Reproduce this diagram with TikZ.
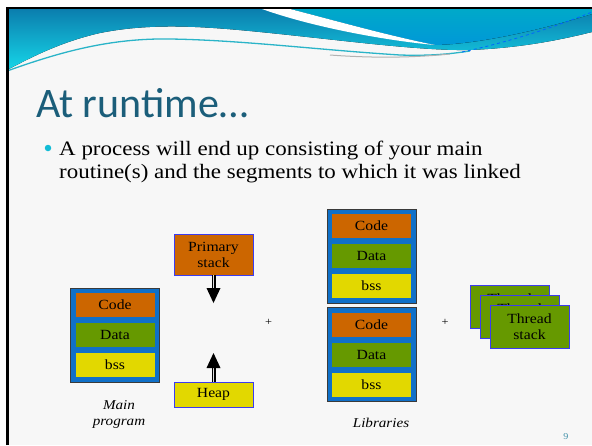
\documentclass[tikz,border=0pt]{standalone}
\usepackage{fontspec}
\setmainfont{Liberation Serif}[FakeStretch=1.12]
\newfontfamily\titlefont{Carlito}

\definecolor{slidebg}{HTML}{F7F7F7}
\definecolor{bandtop}{HTML}{0B7EAE}
\definecolor{bandlow}{HTML}{16D6E8}
\definecolor{bandcyan}{HTML}{00A9C9}
\definecolor{bandblue}{HTML}{0098D8}
\definecolor{swoosh}{HTML}{2AB4C8}
\definecolor{titleteal}{HTML}{1B5E7A}
\definecolor{bulletcyan}{HTML}{12BCD6}
\definecolor{codeorange}{HTML}{CC6600}
\definecolor{datagreen}{HTML}{669900}
\definecolor{bssyellow}{HTML}{E2D800}
\definecolor{segblue}{HTML}{1070C8}
\definecolor{framegray}{HTML}{3A3A3A}
\definecolor{edgeblue}{HTML}{3C3CF0}
\definecolor{pageteal}{HTML}{3F8FA8}

\tikzset{
  seg/.style={minimum width=79pt, minimum height=24pt, inner sep=0pt,
    font=\fontsize{14}{15}\selectfont},
  codeseg/.style={seg, fill=codeorange},
  dataseg/.style={seg, fill=datagreen},
  bssseg/.style={seg, fill=bssyellow},
  segframe/.style={draw=framegray, line width=0.8pt, fill=segblue,
    minimum width=89pt, minimum height=94pt, inner sep=0pt},
  memblock/.style={draw=edgeblue, line width=0.8pt, inner sep=0pt,
    minimum width=79pt, align=center, font=\fontsize{14}{16}\selectfont},
  caption/.style={inner sep=0pt, align=center,
    font=\fontsize{13.5}{16}\selectfont\itshape},
  growarrow/.style={double=black!12, double distance=1.6pt, line width=1.2pt},
  plussign/.style={inner sep=0pt, font=\fontsize{11}{11}\selectfont}
}

\begin{document}
\begin{tikzpicture}[x=1pt, y=-1pt]
    \useasboundingbox (0,0) rectangle (592,445);
    % slide
    \fill [white] (0,0) rectangle (592,445);
    \fill [slidebg] (7,9) rectangle (592,445);

    % header band
    \fill [top color=bandtop, bottom color=bandlow]
        (7,9) -- (592,9) -- (592,32)
        .. controls (560,40) and (520,48) .. (470,50)
        .. controls (420,51) and (340,40) .. (260,32)
        .. controls (200,26) and (150,23) .. (100,33)
        .. controls (60,42) and (30,58) .. (7,70) -- cycle;
    \fill [top color=bandcyan, bottom color=bandblue]
        (290,9) -- (592,9) -- (592,14)
        .. controls (540,30) and (480,44) .. (435,45)
        .. controls (390,36) and (340,22) .. (290,9) -- cycle;
    \fill [white]
        (262,9) -- (290,9)
        .. controls (340,22) and (390,36) .. (435,45)
        .. controls (390,41) and (315,28) .. (262,9) -- cycle;
    % swoosh lines
    \draw [swoosh, line width=1.3pt]
        (7,71) .. controls (60,52) and (110,38) .. (170,39)
        .. controls (240,40) and (320,50) .. (400,55)
        .. controls (430,56) and (450,54) .. (470,51);
    \draw [black!30, line width=1pt] (330,55) .. controls (370,58) and (410,58) .. (450,54);
    \draw [blue!60!cyan, line width=0.8pt, dashed]
        (462,52) .. controls (510,42) and (560,25) .. (592,12);

    % frame
    \draw [black, line width=2.5pt] (7.5,445) -- (7.5,8) -- (592,8);

    % title
    \node [anchor=base west, inner sep=0pt, text=titleteal,
        font=\titlefont\fontsize{42}{42}\selectfont] (title) at (36,117) {At runtime\ldots};

    % bullet
    \node [circle, fill=bulletcyan, inner sep=0pt, minimum size=6.5pt] (bullet) at (48,148) {};
    \node [anchor=base west, inner sep=0pt, font=\fontsize{20.5}{23}\selectfont]
        (lineone) at (59,155) {A process will end up consisting of your main};
    \node [anchor=base west, inner sep=0pt, font=\fontsize{20.5}{23}\selectfont]
        (linetwo) at (59,178) {routine(s) and the segments to which it was linked};

    % Main program
    \node [segframe] (mainprog) at (115,335) {};
    \node [codeseg] (maincode) at (115,305) {Code};
    \node [dataseg] (maindata) at (115,335) {Data};
    \node [bssseg] (mainbss) at (115,365) {bss};
    % label
    \node [caption, anchor=north] (mainlabel) at (119,400) {Main\\program};

    % stack and heap
    \node [memblock, fill=codeorange, minimum height=41pt] (pstack) at (213.5,254.5) {Primary\\stack};
    \node [memblock, fill=bssyellow, minimum height=25pt] (heap) at (213.5,394.5) {Heap};
    \coordinate (downhead) at (213.5,288);
    \coordinate (uphead) at (213.5,368);
    \draw [growarrow] (pstack.south) -- (downhead);
    \fill [black] (downhead) ++(-7,0) -- ++(14,0) -- ++(-7,15) -- cycle;
    \draw [growarrow] (heap.north) -- (uphead);
    \fill [black] (uphead) ++(-7,0) -- ++(14,0) -- ++(-7,-15) -- cycle;

    % +
    \node [plussign] (plusone) at (268.5,322) {+};

    % Libraries
    \node [segframe] (libone) at (371.5,256) {};
    \node [codeseg] (libonecode) at (371.5,226) {Code};
    \node [dataseg] (libonedata) at (371.5,256) {Data};
    \node [bssseg] (libonebss) at (371.5,286) {bss};

    \node [segframe] (libtwo) at (371.5,354.5) {};
    \node [codeseg] (libtwocode) at (371.5,324.5) {Code};
    \node [dataseg] (libtwodata) at (371.5,354.5) {Data};
    \node [bssseg] (libtwobss) at (371.5,384.5) {bss};
    % label
    \node [caption, anchor=base] (liblabel) at (381,427) {Libraries};

    % +
    \node [plussign] (plustwo) at (445,322) {+};

    % thread stacks
    \foreach \i in {0,1,2} {
        \node [memblock, fill=datagreen, minimum height=43pt] (thread\i)
            at (509.5+10*\i,306.5+10*\i) {Thread\\stack};
    }

    % page number
    \node [inner sep=0pt, text=pageteal, font=\fontsize{9}{9}\selectfont] (pagenum) at (566,437) {9};
\end{tikzpicture}
\end{document}
